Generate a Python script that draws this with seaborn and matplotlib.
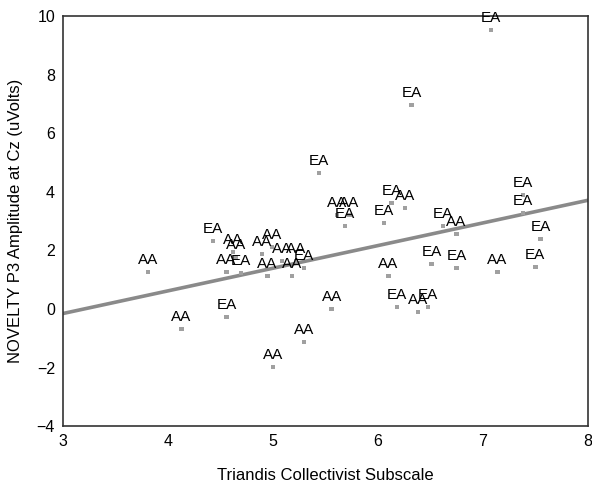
import matplotlib
matplotlib.use("Agg")
import matplotlib.pyplot as plt
import seaborn as sns
import pandas as pd

sns.set_style("white")
plt.rcParams['font.family'] = ['Liberation Sans', 'DejaVu Sans']

collectivism = [7.08, 6.32, 5.44, 5.61, 5.73, 5.69, 6.13, 6.26, 6.06, 7.38,
                7.38, 7.55, 6.62, 6.75, 6.51, 6.75, 7.14, 7.50, 6.18, 6.38,
                6.48, 6.10, 3.81, 4.13, 4.56, 5.30, 5.00, 5.56, 4.43, 4.62,
                4.65, 4.56, 4.70, 4.99, 4.90, 5.09, 5.22, 5.30, 4.95, 5.18]
p3_amplitude = [9.52, 6.96, 4.64, 3.21, 3.21, 2.83, 3.62, 3.45, 2.94, 3.89,
                3.28, 2.39, 2.83, 2.56, 1.54, 1.40, 1.26, 1.43, 0.07, -0.10,
                0.07, 1.13, 1.26, -0.68, -0.27, -1.13, -1.98, 0.00, 2.32, 1.95,
                1.77, 1.26, 1.23, 2.12, 1.88, 1.64, 1.64, 1.40, 1.13, 1.13]
group = ["EA", "EA", "EA", "AA", "AA", "EA", "EA", "AA", "EA", "EA",
         "EA", "EA", "EA", "AA", "EA", "EA", "AA", "EA", "EA", "AA",
         "EA", "AA", "AA", "AA", "EA", "AA", "AA", "AA", "EA", "AA",
         "AA", "AA", "EA", "AA", "AA", "AA", "AA", "EA", "AA", "AA"]

x_ticks = [3, 4, 5, 6, 7, 8]
y_ticks = [-4, -2, 0, 2, 4, 6, 8, 10]

df = pd.DataFrame({"x": collectivism, "y": p3_amplitude, "g": group})

fig = plt.figure(figsize=(5.92, 4.87), dpi=100)
ax = fig.add_axes([0.106, 0.125, 0.887, 0.842])
ax.set_xlim(3, 8)
ax.set_ylim(-4, 10)

sns.regplot(data=df, x="x", y="y", ci=None, scatter=False, truncate=False,
            line_kws=dict(color="#8a8a8a", lw=2.6), ax=ax)
sns.scatterplot(data=df, x="x", y="y", marker="s", s=10, color="#a0a0a0",
                edgecolor="none", ax=ax, zorder=3)
for xi, yi, gi in zip(collectivism, p3_amplitude, group):
    ax.annotate(gi, (xi, yi), xytext=(0, 8.6), textcoords="offset points",
                ha="center", va="center", fontsize=11, color="black", zorder=4)

ax.set_xlim(3, 8)
ax.set_ylim(-4, 10)
ax.set_xticks(x_ticks)
ax.set_yticks(y_ticks)
ax.tick_params(direction="inout", length=4, width=2.5, labelsize=11.5,
               color="black", labelcolor="black")
for s in ax.spines.values():
    s.set_color("#333333")
    s.set_linewidth(1.2)
ax.set_xlabel("Triandis Collectivist Subscale", fontsize=12, labelpad=14, color="black")
ax.set_ylabel("NOVELTY P3 Amplitude at Cz (uVolts)", fontsize=12, labelpad=10, color="black")

fig.savefig("out.png", dpi=100)
